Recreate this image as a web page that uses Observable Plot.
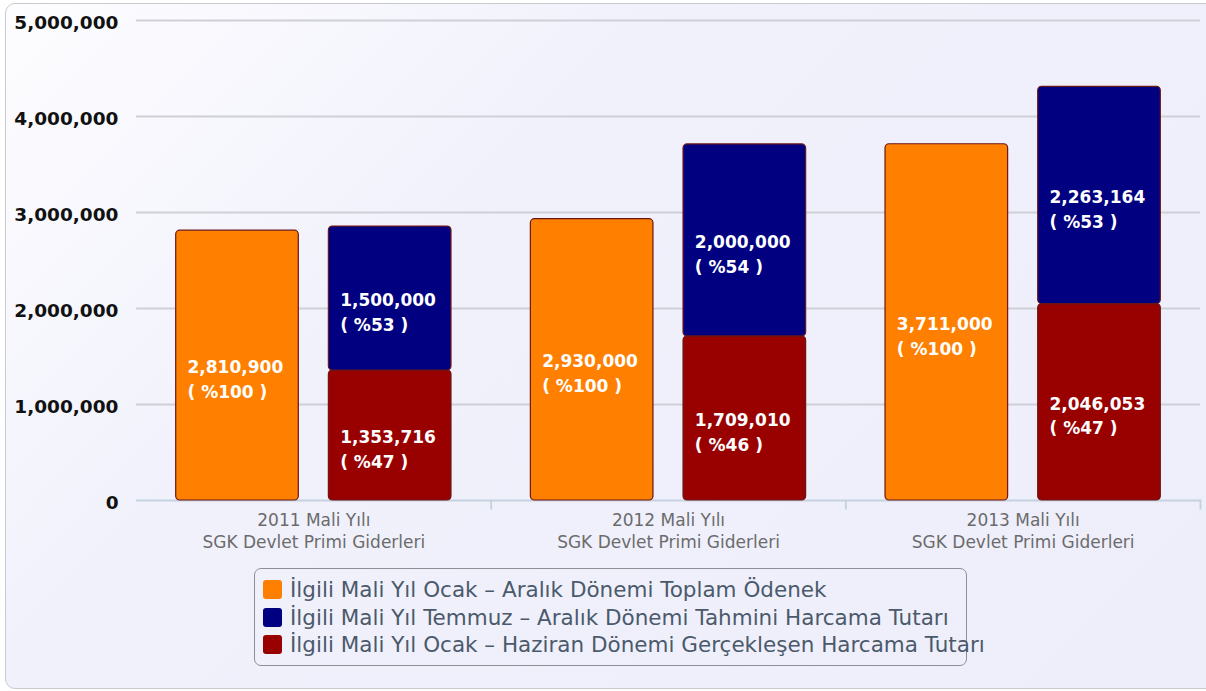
<!DOCTYPE html>
<html>
<head>
<meta charset="utf-8">
<script src="https://cdn.jsdelivr.net/npm/d3@7"></script>
<script src="https://cdn.jsdelivr.net/npm/@observablehq/plot@0.6"></script>
<style>
  html, body { margin: 0; padding: 0; background: #ffffff; }
  #wrap { position: relative; width: 1206px; height: 691px; overflow: hidden; font-family: "DejaVu Sans", sans-serif; }
  #bg { position: absolute; left: 5px; top: 3px; width: 1215px; height: 684px;
        border: 1.5px solid #c9c9cf; border-radius: 10px;
        background: linear-gradient(135deg, #fdfdff 0%, #f1f1fc 35%, #eeeefb 100%); }
  #chart { position: absolute; left: 0; top: 0; }
  #legend { position: absolute; left: 254px; top: 568px; width: 713px; height: 98px;
            border: 1.5px solid #8e8e94; border-radius: 7px; box-sizing: border-box;
            padding-top: 7px; }
  .row { display: flex; align-items: center; height: 27.5px; padding-left: 8px;
         font-size: 21.5px; color: #4b5a6b; white-space: nowrap; }
  .sw { width: 19px; height: 19px; border-radius: 3px; margin-right: 8px; flex: none; }
</style>
</head>
<body>
<div id="wrap">
  <div id="bg"></div>
  <div id="chart"></div>
  <div id="legend"></div>
</div>
<script>
const categories = [
  "2011 Mali Yılı\nSGK Devlet Primi Giderleri",
  "2012 Mali Yılı\nSGK Devlet Primi Giderleri",
  "2013 Mali Yılı\nSGK Devlet Primi Giderleri"
];
const seriesNames = [
  "İlgili Mali Yıl Ocak – Aralık Dönemi Toplam Ödenek",
  "İlgili Mali Yıl Temmuz – Aralık Dönemi Tahmini Harcama Tutarı",
  "İlgili Mali Yıl Ocak – Haziran Dönemi Gerçekleşen Harcama Tutarı"
];
const seriesColors = ["#ff8000", "#000080", "#990000"];
const totalBudget   = [2810900, 2930000, 3711000];
const totalPct      = [100, 100, 100];
const estimatedJulDec = [1500000, 2000000, 2263164];
const estimatedPct    = [53, 54, 53];
const actualJanJun  = [1353716, 1709010, 2046053];
const actualPct     = [47, 46, 47];
const yTicks = [0, 1000000, 2000000, 3000000, 4000000, 5000000];

// table for the library (actual first so it sits at the bottom of the stack)
const rows = [];
categories.forEach((c, i) => {
  rows.push({cat: c, bar: "A", series: seriesNames[0], value: totalBudget[i], pct: totalPct[i]});
  rows.push({cat: c, bar: "B", series: seriesNames[2], value: actualJanJun[i], pct: actualPct[i]});
  rows.push({cat: c, bar: "B", series: seriesNames[1], value: estimatedJulDec[i], pct: estimatedPct[i]});
});

const fmt = d3.format(",");

const chart = Plot.plot({
  width: 1206,
  height: 565,
  marginLeft: 136,
  marginRight: 6,
  marginTop: 20,
  marginBottom: 65,
  style: {background: "transparent", fontFamily: "DejaVu Sans", overflow: "visible"},
  fx: {domain: categories, padding: 0, round: false, label: null},
  x: {domain: ["A", "B"], paddingInner: 0.197, paddingOuter: 0.26, round: false, axis: null},
  y: {domain: [0, 5000000], axis: null},
  color: {domain: seriesNames, range: seriesColors},
  marks: [
    Plot.gridY(yTicks.slice(1), {stroke: "#cfcfd8", strokeOpacity: 1, strokeWidth: 2}),
    Plot.ruleY([0], {stroke: "#c5d3e0", strokeWidth: 2}),
    Plot.frame({anchor: "right", insetTop: 480, insetBottom: -8, stroke: "#c5d3e0", strokeWidth: 2}),
    Plot.barY(rows, Plot.stackY({
      fx: "cat", x: "bar", y: "value", z: "series", fill: "series",
      rx: 4, stroke: "#6a1616", strokeWidth: 1.2
    })),
    Plot.text(rows, Plot.stackY({
      fx: "cat", x: "bar", y: "value", z: "series",
      text: d => `${fmt(d.value)}\n( %${d.pct} )`,
      fill: "white", fontWeight: "bold", fontSize: 17,
      textAnchor: "start", dx: -50, lineAnchor: "top", dy: -10, lineHeight: 1.45
    })),
    Plot.axisY({ticks: yTicks, tickSize: 0, tickPadding: 18, tickFormat: fmt, dy: 3,
      fontSize: 18.5, fontWeight: "bold", color: "#111", label: null}),
    Plot.axisFx({anchor: "bottom", tickSize: 0, tickPadding: 10, fontSize: 17,
      color: "#6b6b6b", lineHeight: 1.3, label: null})
  ]
});
document.getElementById("chart").appendChild(chart);

const legend = document.getElementById("legend");
seriesNames.forEach((name, i) => {
  const row = document.createElement("div");
  row.className = "row";
  const sw = document.createElement("span");
  sw.className = "sw";
  sw.style.background = seriesColors[i];
  const t = document.createElement("span");
  t.textContent = name;
  row.appendChild(sw);
  row.appendChild(t);
  legend.appendChild(row);
});
</script>
</body>
</html>
